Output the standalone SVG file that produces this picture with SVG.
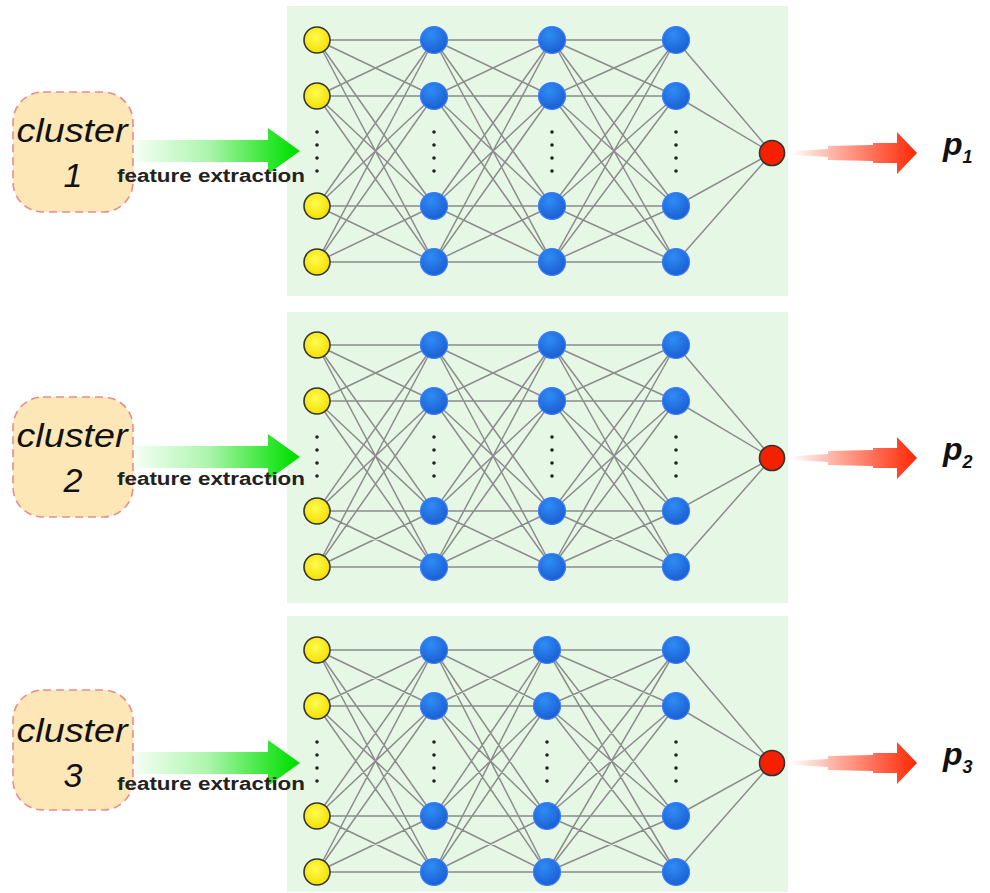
<svg xmlns="http://www.w3.org/2000/svg" xmlns:xlink="http://www.w3.org/1999/xlink" width="990" height="893" viewBox="0 0 990 893">
<style>
.panel{fill:#e6f7e6}
.cl{fill:#fde7b7;stroke:#e98c8c;stroke-width:1.6;stroke-dasharray:8 5}
.ct{font-family:"Liberation Sans",Arial,sans-serif;font-style:italic;fill:#111;text-anchor:middle}
.fe{font-family:"Liberation Sans",Arial,sans-serif;font-weight:bold;font-size:18px;fill:#222}
.pl{font-family:"Liberation Sans",Arial,sans-serif;font-weight:bold;font-style:italic;fill:#111}
.yel{fill:url(#gy);stroke:#333;stroke-width:1.6}
.blu{fill:url(#gb);stroke:#3d7dff;stroke-width:1.2}
.red{fill:#f52000;stroke:#333;stroke-width:1.6}
.ln{fill:none;stroke:#8c8c8c;stroke-width:1.5}
.dot{fill:#222}
</style>
<defs>
<radialGradient id="gy" cx="0.45" cy="0.4" r="0.6"><stop offset="0" stop-color="#fffb50"/><stop offset="1" stop-color="#f3e000"/></radialGradient>
<radialGradient id="gb" cx="0.4" cy="0.3" r="0.7"><stop offset="0" stop-color="#2f8cf5"/><stop offset="1" stop-color="#1b5fd2"/></radialGradient>
<linearGradient id="gg" x1="135" y1="0" x2="295" y2="0" gradientUnits="userSpaceOnUse"><stop offset="0" stop-color="#f4fff4"/><stop offset="0.45" stop-color="#aef5ae"/><stop offset="1" stop-color="#00e000"/></linearGradient>
<linearGradient id="gr" x1="790" y1="0" x2="915" y2="0" gradientUnits="userSpaceOnUse"><stop offset="0" stop-color="#ffffff"/><stop offset="0.4" stop-color="#ffa898"/><stop offset="1" stop-color="#ff2a08"/></linearGradient>
<path id="net" d="M317 40L434 40M317 40L434 96M317 40L434 206M317 40L434 262M317 96L434 40M317 96L434 96M317 96L434 206M317 96L434 262M317 206L434 40M317 206L434 96M317 206L434 206M317 206L434 262M317 262L434 40M317 262L434 96M317 262L434 206M317 262L434 262M434 40L552 40M434 40L552 96M434 40L552 206M434 40L552 262M434 96L552 40M434 96L552 96M434 96L552 206M434 96L552 262M434 206L552 40M434 206L552 96M434 206L552 206M434 206L552 262M434 262L552 40M434 262L552 96M434 262L552 206M434 262L552 262M552 40L676 40M552 40L676 96M552 40L676 206M552 40L676 262M552 96L676 40M552 96L676 96M552 96L676 206M552 96L676 262M552 206L676 40M552 206L676 96M552 206L676 206M552 206L676 262M552 262L676 40M552 262L676 96M552 262L676 206M552 262L676 262M676 40L772 153M676 96L772 153M676 206L772 153M676 262L772 153"/>
<path id="net3" d="M317 40L434 40M317 40L434 96M317 40L434 206M317 40L434 262M317 96L434 40M317 96L434 96M317 96L434 206M317 96L434 262M317 206L434 40M317 206L434 96M317 206L434 206M317 206L434 262M317 262L434 40M317 262L434 96M317 262L434 206M317 262L434 262M434 40L547 40M434 40L547 96M434 40L547 206M434 40L547 262M434 96L547 40M434 96L547 96M434 96L547 206M434 96L547 262M434 206L547 40M434 206L547 96M434 206L547 206M434 206L547 262M434 262L547 40M434 262L547 96M434 262L547 206M434 262L547 262M547 40L676 40M547 40L676 96M547 40L676 206M547 40L676 262M547 96L676 40M547 96L676 96M547 96L676 206M547 96L676 262M547 206L676 40M547 206L676 96M547 206L676 206M547 206L676 262M547 262L676 40M547 262L676 96M547 262L676 206M547 262L676 262M676 40L772 153M676 96L772 153M676 206L772 153M676 262L772 153"/>
</defs>
<rect width="990" height="893" fill="#ffffff"/>
<g id="panels">
<rect class="panel" x="287" y="6" width="501" height="290"/>
<rect class="panel" x="287" y="312" width="501" height="291"/>
<rect class="panel" x="287" y="616" width="501" height="276"/>
</g>
<g id="connectors">
<use xlink:href="#net" class="ln"/>
<use xlink:href="#net" class="ln" transform="translate(0,305)"/>
<use xlink:href="#net3" class="ln" transform="translate(0,610)"/>
</g>
<g id="dots">
<g class="dot">
<circle cx="317" cy="132" r="1.8"/><circle cx="317" cy="145" r="1.8"/><circle cx="317" cy="158" r="1.8"/><circle cx="317" cy="171" r="1.8"/>
<circle cx="434" cy="132" r="1.8"/><circle cx="434" cy="145" r="1.8"/><circle cx="434" cy="158" r="1.8"/><circle cx="434" cy="171" r="1.8"/>
<circle cx="552" cy="132" r="1.8"/><circle cx="552" cy="145" r="1.8"/><circle cx="552" cy="158" r="1.8"/><circle cx="552" cy="171" r="1.8"/>
<circle cx="676" cy="132" r="1.8"/><circle cx="676" cy="145" r="1.8"/><circle cx="676" cy="158" r="1.8"/><circle cx="676" cy="171" r="1.8"/>
<circle cx="317" cy="437" r="1.8"/><circle cx="317" cy="450" r="1.8"/><circle cx="317" cy="463" r="1.8"/><circle cx="317" cy="476" r="1.8"/>
<circle cx="434" cy="437" r="1.8"/><circle cx="434" cy="450" r="1.8"/><circle cx="434" cy="463" r="1.8"/><circle cx="434" cy="476" r="1.8"/>
<circle cx="552" cy="437" r="1.8"/><circle cx="552" cy="450" r="1.8"/><circle cx="552" cy="463" r="1.8"/><circle cx="552" cy="476" r="1.8"/>
<circle cx="676" cy="437" r="1.8"/><circle cx="676" cy="450" r="1.8"/><circle cx="676" cy="463" r="1.8"/><circle cx="676" cy="476" r="1.8"/>
<circle cx="317" cy="742" r="1.8"/><circle cx="317" cy="755" r="1.8"/><circle cx="317" cy="768" r="1.8"/><circle cx="317" cy="781" r="1.8"/>
<circle cx="434" cy="742" r="1.8"/><circle cx="434" cy="755" r="1.8"/><circle cx="434" cy="768" r="1.8"/><circle cx="434" cy="781" r="1.8"/>
<circle cx="547" cy="742" r="1.8"/><circle cx="547" cy="755" r="1.8"/><circle cx="547" cy="768" r="1.8"/><circle cx="547" cy="781" r="1.8"/>
<circle cx="676" cy="742" r="1.8"/><circle cx="676" cy="755" r="1.8"/><circle cx="676" cy="768" r="1.8"/><circle cx="676" cy="781" r="1.8"/>
</g>
</g>
<!-- panel 1 nodes -->
<g id="n1-in"><circle class="yel" cx="317" cy="40" r="13"/><circle class="yel" cx="317" cy="96" r="13"/><circle class="yel" cx="317" cy="206" r="13"/><circle class="yel" cx="317" cy="262" r="13"/></g>
<g id="n1-h1"><circle class="blu" cx="434" cy="40" r="13.5"/><circle class="blu" cx="434" cy="96" r="13.5"/><circle class="blu" cx="434" cy="206" r="13.5"/><circle class="blu" cx="434" cy="262" r="13.5"/></g>
<g id="n1-h2"><circle class="blu" cx="552" cy="40" r="13.5"/><circle class="blu" cx="552" cy="96" r="13.5"/><circle class="blu" cx="552" cy="206" r="13.5"/><circle class="blu" cx="552" cy="262" r="13.5"/></g>
<g id="n1-h3"><circle class="blu" cx="676" cy="40" r="13.5"/><circle class="blu" cx="676" cy="96" r="13.5"/><circle class="blu" cx="676" cy="206" r="13.5"/><circle class="blu" cx="676" cy="262" r="13.5"/></g>
<g id="n1-out"><circle class="red" cx="772" cy="153" r="12.5"/></g>
<!-- panel 2 nodes -->
<g id="n2-in"><circle class="yel" cx="317" cy="345" r="13"/><circle class="yel" cx="317" cy="401" r="13"/><circle class="yel" cx="317" cy="511" r="13"/><circle class="yel" cx="317" cy="567" r="13"/></g>
<g id="n2-h1"><circle class="blu" cx="434" cy="345" r="13.5"/><circle class="blu" cx="434" cy="401" r="13.5"/><circle class="blu" cx="434" cy="511" r="13.5"/><circle class="blu" cx="434" cy="567" r="13.5"/></g>
<g id="n2-h2"><circle class="blu" cx="552" cy="345" r="13.5"/><circle class="blu" cx="552" cy="401" r="13.5"/><circle class="blu" cx="552" cy="511" r="13.5"/><circle class="blu" cx="552" cy="567" r="13.5"/></g>
<g id="n2-h3"><circle class="blu" cx="676" cy="345" r="13.5"/><circle class="blu" cx="676" cy="401" r="13.5"/><circle class="blu" cx="676" cy="511" r="13.5"/><circle class="blu" cx="676" cy="567" r="13.5"/></g>
<g id="n2-out"><circle class="red" cx="772" cy="458" r="12.5"/></g>
<!-- panel 3 nodes -->
<g id="n3-in"><circle class="yel" cx="317" cy="650" r="13"/><circle class="yel" cx="317" cy="706" r="13"/><circle class="yel" cx="317" cy="816" r="13"/><circle class="yel" cx="317" cy="872" r="13"/></g>
<g id="n3-h1"><circle class="blu" cx="434" cy="650" r="13.5"/><circle class="blu" cx="434" cy="706" r="13.5"/><circle class="blu" cx="434" cy="816" r="13.5"/><circle class="blu" cx="434" cy="872" r="13.5"/></g>
<g id="n3-h2"><circle class="blu" cx="547" cy="650" r="13.5"/><circle class="blu" cx="547" cy="706" r="13.5"/><circle class="blu" cx="547" cy="816" r="13.5"/><circle class="blu" cx="547" cy="872" r="13.5"/></g>
<g id="n3-h3"><circle class="blu" cx="676" cy="650" r="13.5"/><circle class="blu" cx="676" cy="706" r="13.5"/><circle class="blu" cx="676" cy="816" r="13.5"/><circle class="blu" cx="676" cy="872" r="13.5"/></g>
<g id="n3-out"><circle class="red" cx="772" cy="763" r="12.5"/></g>
<!-- clusters -->
<g id="cluster1"><rect class="cl" x="13" y="92" width="120" height="120" rx="30"/><text class="ct" x="72" y="142" font-size="34" textLength="111" lengthAdjust="spacingAndGlyphs">cluster</text><text class="ct" x="73" y="187" font-size="34">1</text></g>
<g id="cluster2"><rect class="cl" x="13" y="397" width="120" height="120" rx="30"/><text class="ct" x="72" y="447" font-size="34" textLength="111" lengthAdjust="spacingAndGlyphs">cluster</text><text class="ct" x="73" y="492" font-size="34">2</text></g>
<g id="cluster3"><rect class="cl" x="13" y="690" width="120" height="120" rx="30"/><text class="ct" x="72" y="742" font-size="34" textLength="111" lengthAdjust="spacingAndGlyphs">cluster</text><text class="ct" x="73" y="787" font-size="34">3</text></g>
<!-- feature extraction arrows -->
<g id="fe1"><path d="M135 140H268V128L300 151L268 174V162H135Z" fill="url(#gg)"/><text class="fe" x="117" y="182" textLength="188" lengthAdjust="spacingAndGlyphs">feature extraction</text></g>
<g id="fe2"><path d="M135 446H268V434L300 457L268 480V468H135Z" fill="url(#gg)"/><text class="fe" x="117" y="485" textLength="188" lengthAdjust="spacingAndGlyphs">feature extraction</text></g>
<g id="fe3"><path d="M135 752H268V740L300 763L268 786V774H135Z" fill="url(#gg)"/><text class="fe" x="117" y="790" textLength="188" lengthAdjust="spacingAndGlyphs">feature extraction</text></g>
<!-- output arrows -->
<g id="out1"><path d="M786 151.5L828 149L828 146L873 145L873 143L897 143L897 132L917 153L897 174L897 163L873 163L873 161L828 160L828 157L786 154.5Z" fill="url(#gr)"/><text class="pl" x="943" y="155" font-size="32">p<tspan font-size="18" dy="8">1</tspan></text></g>
<g id="out2"><path d="M786 456.5L828 454L828 451L873 450L873 448L897 448L897 437L917 458L897 479L897 468L873 468L873 466L828 465L828 462L786 459.5Z" fill="url(#gr)"/><text class="pl" x="943" y="460" font-size="32">p<tspan font-size="18" dy="8">2</tspan></text></g>
<g id="out3"><path d="M786 761.5L828 759L828 756L873 755L873 753L897 753L897 742L917 763L897 784L897 773L873 773L873 771L828 770L828 767L786 764.5Z" fill="url(#gr)"/><text class="pl" x="943" y="765" font-size="32">p<tspan font-size="18" dy="8">3</tspan></text></g>
</svg>
